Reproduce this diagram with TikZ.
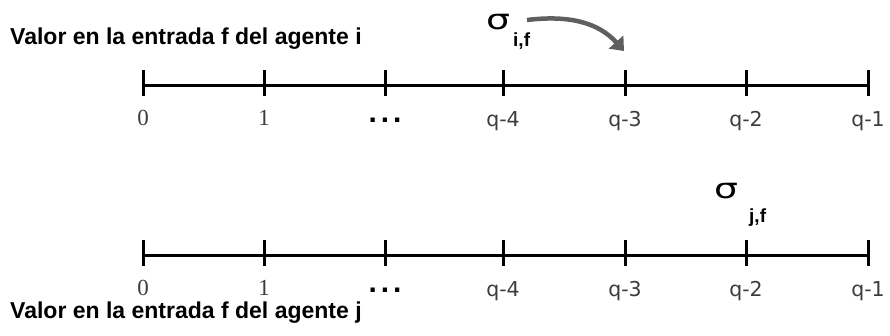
\documentclass[tikz,border=0pt]{standalone}
\usepackage{fontspec}
\setmainfont{Liberation Sans}
\newfontfamily\numfont{Liberation Serif}
\newfontfamily\qfont{DejaVu Sans}
\usepackage{xcolor}
\usepackage{graphicx}
\usetikzlibrary{arrows.meta, positioning}
\definecolor{arrowgray}{RGB}{95,95,95}
\definecolor{labelgray}{RGB}{60,60,60}

\tikzset{
  axisline/.style={line width=3pt},
  tickmark/.style={line width=3pt},
  title/.style={font=\bfseries\fontsize{23}{27}\selectfont, anchor=base west, inner sep=0pt},
  numlabel/.style={font=\numfont\fontsize{23}{26}\selectfont, text=labelgray, anchor=base, inner sep=0pt},
  qlabel/.style={font=\qfont\fontsize{20.5}{24}\selectfont, text=labelgray, anchor=base, inner sep=0pt},
  dotlabel/.style={font=\bfseries\fontsize{30}{32}\selectfont, anchor=base, inner sep=0pt},
  sigma/.style={font=\qfont\fontsize{28}{32}\selectfont, anchor=base west, inner sep=0pt},
  subsc/.style={font=\bfseries\fontsize{19}{22}\selectfont, anchor=base west, inner sep=0pt},
}
\newcommand{\widesigma}{\scalebox{1.35}[1]{σ}}

\begin{document}
\begin{tikzpicture}[x=1pt, y=-1pt]
  \useasboundingbox (0,0) rectangle (890,335);

  % tick positions of both scales
  \foreach \k/\x in {0/143, 1/264, 2/385, 3/503, 4/625, 5/746, 6/868} {
    \coordinate (top\k) at (\x,85);
    \coordinate (bot\k) at (\x,255);
  }
  \draw[axisline] (top0) -- (top6);
  \draw[axisline] (bot0) -- (bot6);
  \foreach \k in {0,...,6} {
    \draw[tickmark] ([yshift=15pt]top\k) -- ([yshift=-11pt]top\k);
    \draw[tickmark] ([yshift=15pt]bot\k) -- ([yshift=-11pt]bot\k);
  }

  % labels under the ticks
  \foreach \k/\t in {0/0, 1/1} {
    \node[numlabel] (ntop\k) at ([yshift=-40pt]top\k) {\t};
    \node[numlabel] (nbot\k) at ([yshift=-40pt]bot\k) {\t};
  }
  \node[dotlabel] (dtop) at ([yshift=-37pt]top2) {.\hspace{4pt}.\hspace{4pt}.};
  \node[dotlabel] (dbot) at ([yshift=-37pt]bot2) {.\hspace{4pt}.\hspace{4pt}.};
  \foreach \k/\t in {3/q-4, 4/q-3, 5/q-2, 6/q-1} {
    \node[qlabel] (qtop\k) at ([yshift=-41pt]top\k) {\t};
    \node[qlabel] (qbot\k) at ([yshift=-41pt]bot\k) {\t};
  }

  % titles
  \node[title] (titlei) at (10,44) {Valor en la entrada f del agente i};
  \node[title] (titlej) at (10,318) {Valor en la entrada f del agente j};

  % values of the two agents
  \node[sigma] (sigi) at (486,29) {\widesigma};
  \node[subsc] (subi) at (513,46) {i,f};
  \node[sigma] (sigj) at (714,198) {\widesigma};
  \node[subsc] (subj) at (749,222) {j,f};

  \coordinate (arrowstart) at (527,20);
  \coordinate (arrowtip) at (624,51);
  \draw[arrowgray, line width=4.5pt, -{Triangle[length=12pt, width=19pt]}]
    (arrowstart) .. controls (568,15) and (598,22) .. (arrowtip);
\end{tikzpicture}
\end{document}
